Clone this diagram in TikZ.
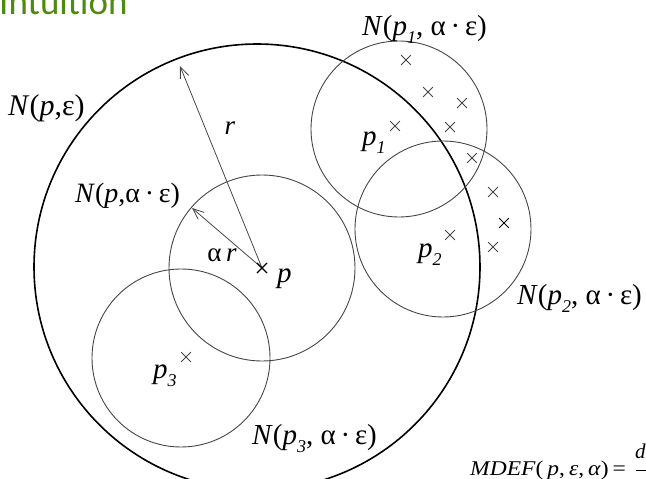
\documentclass[tikz,border=0pt]{standalone}
\usepackage{fontspec}
\setmainfont{Liberation Serif}[ItalicFont={Liberation Serif Italic},BoldFont={Liberation Serif Bold}]
\newfontfamily\titlefont{Carlito}
\usetikzlibrary{arrows.meta,shapes.misc}
\definecolor{titlegreen}{RGB}{79,138,16}
\definecolor{thinline}{RGB}{70,70,70}
\newcommand{\subit}[1]{\raisebox{-0.28em}{\fontsize{18}{18}\selectfont\itshape #1}}
\begin{document}
\begin{tikzpicture}[x=1pt,y=-1pt,
  bigc/.style={draw=black,line width=1.6pt},
  smallc/.style={draw=thinline,line width=0.9pt},
  xmark/.style={cross out,draw=thinline,line width=0.8pt,minimum size=9pt,inner sep=0pt},
  arr/.style={draw=thinline,line width=0.8pt,-{Straight Barb[length=11pt,width=9pt,line width=0.8pt]}},
  lbl/.style={inner sep=0pt,anchor=base west,font=\fontsize{29}{30}\selectfont},
  small/.style={inner sep=0pt,font=\fontsize{27}{30}\selectfont},
  formula/.style={inner sep=0pt,anchor=base west,font=\fontsize{21}{22}\selectfont}]
\useasboundingbox (0,0) rectangle (646,479);
% title
\node[inner sep=0pt,anchor=base west,text=titlegreen,font=\titlefont\fontsize{37}{40}\selectfont] (title) at (-1,15) {Intuition};
% centres
\coordinate (cbig) at (257,267);
\coordinate (p) at (262,268);
\coordinate (c1) at (399,129);
\coordinate (c2) at (443,229);
\coordinate (c3) at (181,358);
% circles
\draw[bigc] (cbig) circle[radius=223];
\draw[smallc] (p) circle[radius=93];
\draw[smallc] (c1) circle[radius=88];
\draw[smallc] (c2) circle[radius=88];
\draw[smallc] (c3) circle[radius=89];
% arrows
\coordinate (rtip) at (180,66);
\coordinate (artip) at (192,208);
\draw[arr] (p) -- (rtip);
\draw[arr] (p) -- (artip);
% point marks
\node[xmark,draw=black,line width=1.1pt] (xp) at (p) {};
\node[xmark] (x1) at (395,126) {};
\node[xmark] (x2) at (450,235) {};
\node[xmark] (x3) at (186,357) {};
\node[xmark] (a1) at (406,60) {};
\node[xmark] (a2) at (428,92) {};
\node[xmark] (a3) at (462,103) {};
\node[xmark] (a4) at (450,127) {};
\node[xmark] (a5) at (472,158) {};
\node[xmark] (b1) at (493,192) {};
\node[xmark,draw=black] (b2) at (504,223) {};
\node[xmark] (b3) at (493,247) {};
% labels
\node[lbl,font=\fontsize{30}{30}\selectfont] (lNpe) at (8,115) {\textit{N}(\textit{p},ε)};
\node[lbl,font=\fontsize{28}{30}\selectfont] (lNpae) at (75,202) {\textit{N}(\textit{p},α\,·\,ε)};
\node[lbl] (lN1) at (362,35) {\textit{N}(\textit{p}\subit{1}, α\,·\,ε)};
\node[lbl] (lN2) at (517,304) {\textit{N}(\textit{p}\subit{2}, α\,·\,ε)};
\node[lbl] (lN3) at (252,444) {\textit{N}(\textit{p}\subit{3}, α\,·\,ε)};
\node[small] (lr) at (230,128) {\textit{r}};
\node[small] (lar) at (222,255) {α\,\textit{r}};
\node[lbl] (lp) at (277,282) {\textit{p}};
\node[lbl] (lp1) at (362,145) {\textit{p}\subit{1}};
\node[lbl] (lp2) at (418,257) {\textit{p}\subit{2}};
\node[lbl] (lp3) at (153,378) {\textit{p}\subit{3}};
% formula
\node[formula] (mdef) at (470,475) {\scalebox{1.12}[1]{\textit{MDEF}(\,\textit{p},\,\textit{ε},\,\textit{α})\,=}};
\node[formula] (dnum) at (635,458) {\textit{d}};
\coordinate (barL) at (636,470);
\coordinate (barR) at (646,470);
\draw[line width=0.6pt] (barL) -- (barR);
\end{tikzpicture}
\end{document}
